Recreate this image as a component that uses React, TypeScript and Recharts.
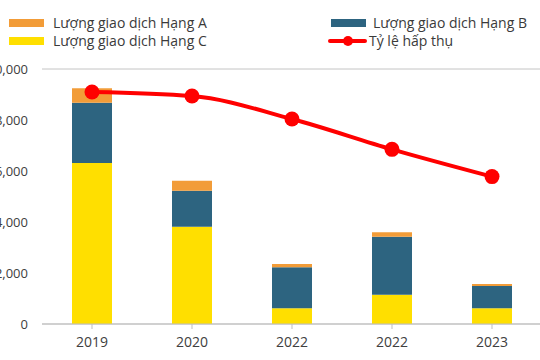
import React from 'react';
import { ComposedChart, Bar, Line, XAxis, YAxis, CartesianGrid } from 'recharts';

const categories = ['2019', '2020', '2022', '2022', '2023'];
const gradeA = [565, 392, 129, 174, 78];
const gradeB = [2364, 1411, 1608, 2275, 874];
const gradeC = [6314, 3816, 616, 1149, 616];
const absorption = [91.0, 89.4, 80.4, 68.5, 57.8];
const yTicks = [0, 2000, 4000, 6000, 8000, 10000];

const legendItems = [
  { label: 'Lượng giao dịch Hạng A', color: '#F29C38', kind: 'box', left: 9, top: 19, gap: 9 },
  { label: 'Lượng giao dịch Hạng B', color: '#2D6480', kind: 'box', left: 331, top: 19, gap: 7 },
  { label: 'Lượng giao dịch Hạng C', color: '#FFDF00', kind: 'box', left: 9, top: 37, gap: 9 },
  { label: 'Tỷ lệ hấp thụ', color: '#FF0000', kind: 'line', left: 328, top: 37, gap: 2 },
];

const data = categories.map((year, i) => ({
  year,
  A: gradeA[i],
  B: gradeB[i],
  C: gradeC[i],
  rate: absorption[i],
}));

const FONT = '"Open Sans", "Noto Sans", sans-serif';

function fmt(v: number) {
  return v.toLocaleString('en-US');
}

export default function App() {
  return (
    <div
      style={{
        position: 'fixed',
        left: 0,
        top: 0,
        width: 540,
        height: 360,
        overflow: 'hidden',
        background: '#fff',
        fontFamily: FONT,
      }}
    >
      {legendItems.map((it, i) => (
        <div
          key={i}
          style={{
            position: 'absolute',
            left: it.left,
            top: it.top,
            height: 8,
            display: 'flex',
            alignItems: 'center',
            whiteSpace: 'nowrap',
          }}
        >
          {it.kind === 'box' ? (
            <span style={{ display: 'inline-block', width: 35, height: 8, background: it.color }} />
          ) : (
            <span style={{ position: 'relative', display: 'inline-block', width: 39, height: 10 }}>
              <span
                style={{
                  position: 'absolute',
                  left: 0,
                  top: 3,
                  width: 39,
                  height: 4,
                  borderRadius: 2,
                  background: it.color,
                }}
              />
              <span
                style={{
                  position: 'absolute',
                  left: 15,
                  top: 0,
                  width: 10,
                  height: 10,
                  borderRadius: '50%',
                  background: it.color,
                }}
              />
            </span>
          )}
          <span
            style={{
              marginLeft: it.gap,
              fontSize: 14,
              color: '#3A3A3A',
              lineHeight: '8px',
            }}
          >
            {it.label}
          </span>
        </div>
      ))}
      <div style={{ position: 'absolute', left: -60, top: 0 }}>
        <ComposedChart
          width={610}
          height={360}
          data={data}
          margin={{ top: 69, right: 8, bottom: 0, left: 0 }}
          barCategoryGap="30%"
        >
          <CartesianGrid vertical={false} stroke="#C4C4C4" strokeWidth={1} />
          <XAxis
            dataKey="year"
            allowDuplicatedCategory
            height={36}
            stroke="#BFBFBF"
            tickSize={5}
            tickMargin={8}
            tick={{ fill: '#404040', fontSize: 14, fontFamily: FONT }}
            interval={0}
          />
          <YAxis
            yAxisId="left"
            width={102}
            domain={[0, 10000]}
            ticks={yTicks}
            axisLine={false}
            tickLine={false}
            tickSize={0}
            tickMargin={14}
            tickFormatter={fmt}
            tick={{ fill: '#404040', fontSize: 13, fontFamily: FONT }}
          />
          <YAxis yAxisId="right" orientation="right" hide domain={[0, 100]} />
          <Bar yAxisId="left" dataKey="C" stackId="s" fill="#FFDF00" isAnimationActive={false} />
          <Bar yAxisId="left" dataKey="B" stackId="s" fill="#2D6480" isAnimationActive={false} />
          <Bar yAxisId="left" dataKey="A" stackId="s" fill="#F29C38" isAnimationActive={false} />
          <Line
            yAxisId="right"
            type="monotone"
            dataKey="rate"
            stroke="#FF0000"
            strokeWidth={4}
            dot={{ r: 7.5, fill: '#FF0000', stroke: '#FF0000', strokeWidth: 0 }}
            activeDot={false}
            isAnimationActive={false}
          />
        </ComposedChart>
      </div>
    </div>
  );
}
